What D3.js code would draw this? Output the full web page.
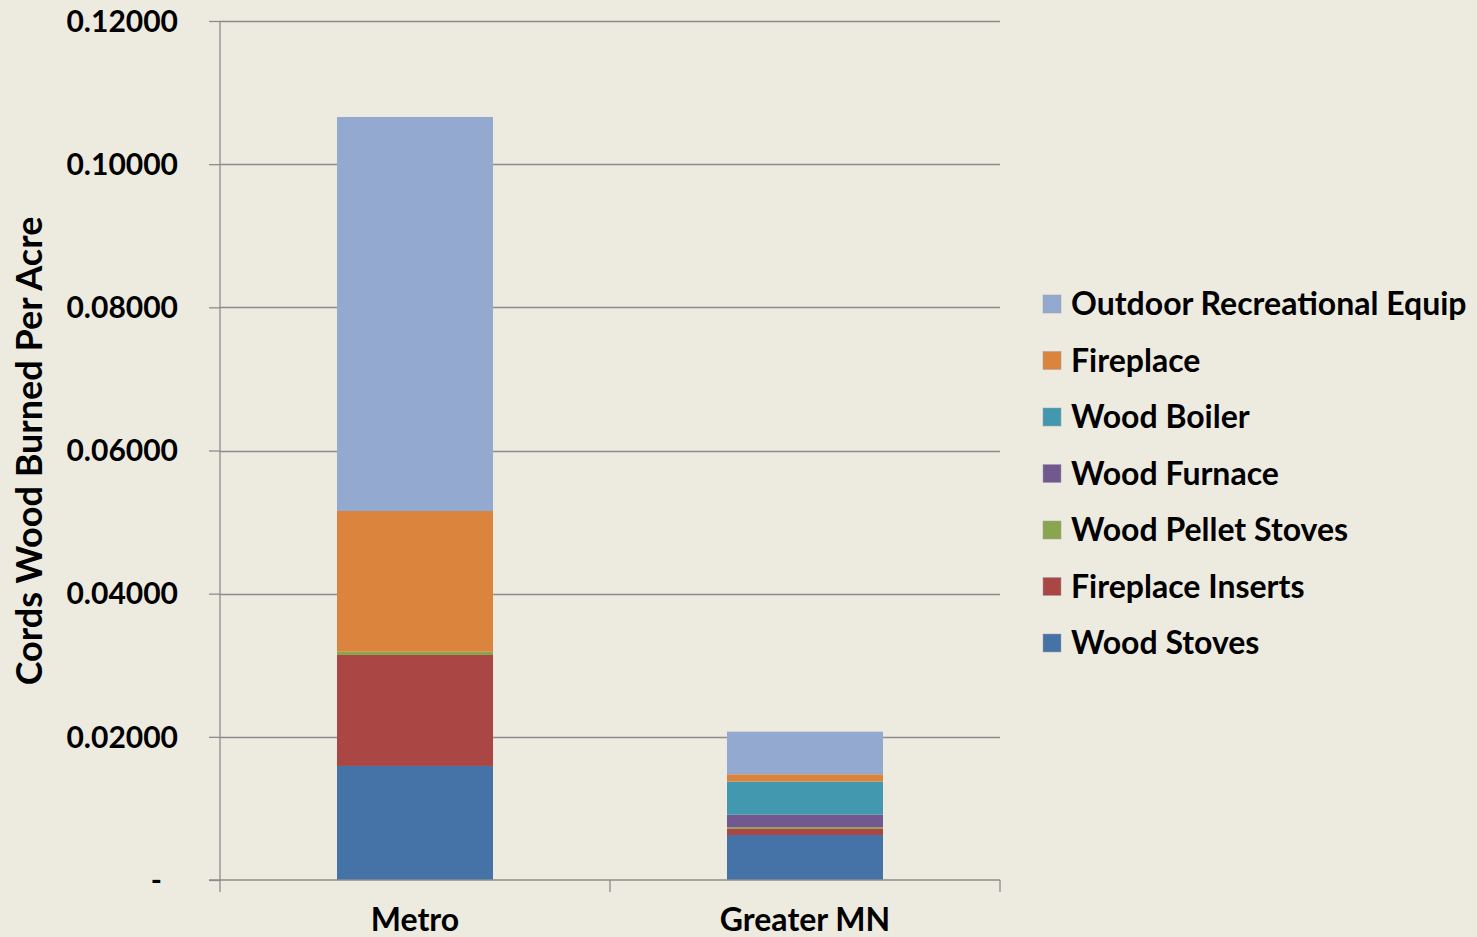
<!DOCTYPE html>
<html>
<head>
<meta charset="utf-8">
<script src="https://cdn.jsdelivr.net/npm/d3@7"></script>
<style>
  html, body { margin: 0; padding: 0; background: #EDEBE0; }
  svg { display: block; }
  text { font-family: Lato, "Open Sans", sans-serif; font-weight: bold; fill: #000; }
</style>
</head>
<body>
<svg id="chart" width="1477" height="937"></svg>
<script>
// ---- Data ----
const categories = ["Metro", "Greater MN"];
const seriesNames = ["Wood Stoves", "Fireplace Inserts", "Wood Pellet Stoves", "Wood Furnace", "Wood Boiler", "Fireplace", "Outdoor Recreational Equip"];
const woodStoves        = [0.01593, 0.00629];
const fireplaceInserts  = [0.01550, 0.00084];
const woodPelletStoves  = [0.00046, 0.00024];
const woodFurnace       = [0.00000, 0.00176];
const woodBoiler        = [0.00000, 0.00461];
const fireplace         = [0.01966, 0.00103];
const outdoorRecEquip   = [0.05504, 0.00595];
const yTicks = [0, 0.02, 0.04, 0.06, 0.08, 0.10, 0.12];
const colors = ["#4572A7", "#AA4643", "#89A54E", "#71588F", "#4198AF", "#DB843D", "#93A9CF"];

const seriesValues = [woodStoves, fireplaceInserts, woodPelletStoves, woodFurnace, woodBoiler, fireplace, outdoorRecEquip];
const table = categories.map((c, i) => {
  const row = { category: c };
  seriesNames.forEach((s, j) => row[s] = seriesValues[j][i]);
  return row;
});

// ---- Layout ----
const svg = d3.select("#chart");
const plot = { left: 220, right: 1000, top: 21, bottom: 880 };

const x = d3.scaleBand().domain(categories).range([plot.left, plot.right]).padding(0);
const y = d3.scaleLinear().domain([0, 0.12]).range([plot.bottom, plot.top]);

// gridlines
svg.append("g").selectAll("line").data(yTicks.filter(d => d > 0)).join("line")
  .attr("x1", plot.left).attr("x2", plot.right)
  .attr("y1", d => Math.round(y(d)) + 0.5).attr("y2", d => Math.round(y(d)) + 0.5)
  .attr("stroke", "#8C8C8C").attr("stroke-width", 1.3);

// bars
const stack = d3.stack().keys(seriesNames)(table);
const barW = x.bandwidth() * 0.4;
svg.append("g").selectAll("g").data(stack).join("g")
  .attr("fill", (d, i) => colors[i])
  .selectAll("rect").data(d => d).join("rect")
  .attr("x", d => x(d.data.category) + (x.bandwidth() - barW) / 2)
  .attr("width", barW)
  .attr("y", d => y(d[1]))
  .attr("height", d => y(d[0]) - y(d[1]));

// y axis
const yAxis = svg.append("g").attr("transform", `translate(${plot.left},0)`)
  .call(d3.axisLeft(y).tickValues(yTicks).tickSize(11).tickPadding(31)
    .tickFormat(d => d === 0 ? "-" : d3.format(".5f")(d)));
yAxis.select(".domain").attr("stroke", "#8C8C8C").attr("stroke-width", 1.3).attr("d", `M0,${plot.top}V${plot.bottom}`);
yAxis.selectAll(".tick line").attr("stroke", "#8C8C8C").attr("stroke-width", 1.3);
yAxis.selectAll(".tick text").style("font-size", "30px").attr("fill", "#000").attr("dy", "0.34em")
  .attr("dx", d => d === 0 ? -16 : 0);

// x axis
const xAxis = svg.append("g").attr("transform", `translate(0,${plot.bottom})`)
  .call(d3.axisBottom(x).tickSize(0).tickPadding(28));
xAxis.select(".domain").attr("stroke", "#8C8C8C").attr("stroke-width", 1.3).attr("d", `M${plot.left - 11},0H${plot.right}`);
xAxis.selectAll(".tick text").style("font-size", "32px").attr("fill", "#000");
// category separator ticks
const sepPos = [plot.left, x(categories[1]), plot.right];
xAxis.append("g").selectAll("line").data(sepPos).join("line")
  .attr("x1", d => d).attr("x2", d => d).attr("y1", 0).attr("y2", 12)
  .attr("stroke", "#8C8C8C").attr("stroke-width", 1.3);

// y axis title
svg.append("text")
  .attr("transform", `translate(42,451) rotate(-90)`)
  .attr("text-anchor", "middle")
  .style("font-size", "36px")
  .text("Cords Wood Burned Per Acre");

// legend
const legendOrder = seriesNames.map((s, i) => ({ name: s, color: colors[i] })).reverse();
const lg = svg.append("g").selectAll("g").data(legendOrder).join("g")
  .attr("transform", (d, i) => `translate(1043,${304 + i * 56.5})`);
lg.append("rect").attr("x", 0).attr("y", -9).attr("width", 18).attr("height", 18)
  .attr("fill", d => d.color).attr("stroke", "#A0A0A0").attr("stroke-width", 0.5);
lg.append("text").attr("x", 28).attr("dy", "0.35em").style("font-size", "32px").text(d => d.name);
</script>
</body>
</html>
